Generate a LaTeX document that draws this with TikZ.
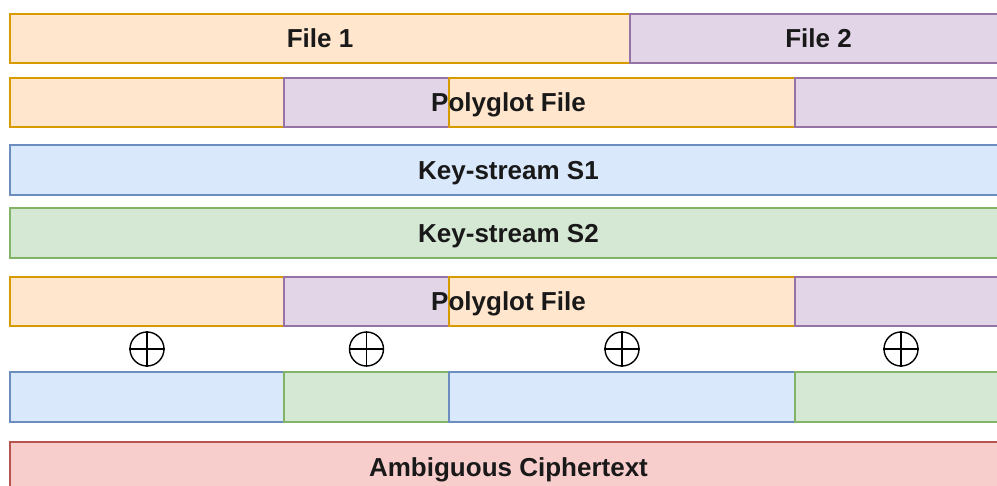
\documentclass[tikz,border=0pt]{standalone}
\usepackage{fontspec}
\setmainfont{Liberation Sans}
\definecolor{orF}{HTML}{FFE6CC}\definecolor{orD}{HTML}{D79B00}
\definecolor{puF}{HTML}{E1D5E7}\definecolor{puD}{HTML}{9673A6}
\definecolor{blF}{HTML}{DAE8FC}\definecolor{blD}{HTML}{6C8EBF}
\definecolor{grF}{HTML}{D5E8D4}\definecolor{grD}{HTML}{82B366}
\definecolor{reF}{HTML}{F8CECC}\definecolor{reD}{HTML}{B85450}
\tikzset{
  seg/.style={rectangle, inner sep=0pt, outer sep=0pt, line width=1.3pt, anchor=north west},
  orseg/.style={seg, fill=orF, draw=orD},
  puseg/.style={seg, fill=puF, draw=puD},
  blseg/.style={seg, fill=blF, draw=blD},
  grseg/.style={seg, fill=grF, draw=grD},
  reseg/.style={seg, fill=reF, draw=reD},
  lbl/.style={inner sep=0pt, anchor=base, font=\fontsize{26}{30}\selectfont\bfseries, text=black!90},
  xorc/.style={circle, draw=black, line width=1.4pt, minimum size=34pt, inner sep=0pt}
}
\begin{document}
\begin{tikzpicture}[x=1pt,y=-1pt]
\useasboundingbox (0,0) rectangle (997,486);
\clip (0,0) rectangle (997,486);
% row 1
\node[orseg, minimum width=620, minimum height=49] (f1) at (10,14) {};
\node[puseg, minimum width=377, minimum height=49] (f2) at (630,14) {};
\node[lbl] (f1t) at (320,47.5) {File 1};
\node[lbl] (f2t) at (818.5,47.5) {File 2};
% row 2
\node[orseg, minimum width=274, minimum height=49] (p1a) at (10,78) {};
\node[puseg, minimum width=165, minimum height=49] (p1b) at (284,78) {};
\node[orseg, minimum width=346, minimum height=49] (p1c) at (449,78) {};
\node[puseg, minimum width=212, minimum height=49] (p1d) at (795,78) {};
\node[lbl] (p1t) at (508.5,111.5) {Polyglot File};
% row 3
\node[blseg, minimum width=997, minimum height=50] (s1) at (10,145) {};
\node[lbl] (s1t) at (508.5,179.5) {Key-stream S1};
% row 4
\node[grseg, minimum width=997, minimum height=50] (s2) at (10,208) {};
\node[lbl] (s2t) at (508.5,242.5) {Key-stream S2};
% row 5
\node[orseg, minimum width=274, minimum height=49] (p2a) at (10,277) {};
\node[puseg, minimum width=165, minimum height=49] (p2b) at (284,277) {};
\node[orseg, minimum width=346, minimum height=49] (p2c) at (449,277) {};
\node[puseg, minimum width=212, minimum height=49] (p2d) at (795,277) {};
\node[lbl] (p2t) at (508.5,310.5) {Polyglot File};
% xor
\foreach \n/\x in {x1/147, x2/366.5, x3/622, x4/901}{
  \node[xorc] (\n) at (\x,349) {};
  \draw[line width=1.4pt] (\n.north) -- (\n.south) (\n.west) -- (\n.east);
}
% row 7
\node[blseg, minimum width=274, minimum height=50] (k1) at (10,372) {};
\node[grseg, minimum width=165, minimum height=50] (k2) at (284,372) {};
\node[blseg, minimum width=346, minimum height=50] (k3) at (449,372) {};
\node[grseg, minimum width=212, minimum height=50] (k4) at (795,372) {};
% row 8
\node[reseg, minimum width=997, minimum height=50] (ct) at (10,442) {};
\node[lbl] (ctt) at (508.5,476) {Ambiguous Ciphertext};
\end{tikzpicture}
\end{document}
